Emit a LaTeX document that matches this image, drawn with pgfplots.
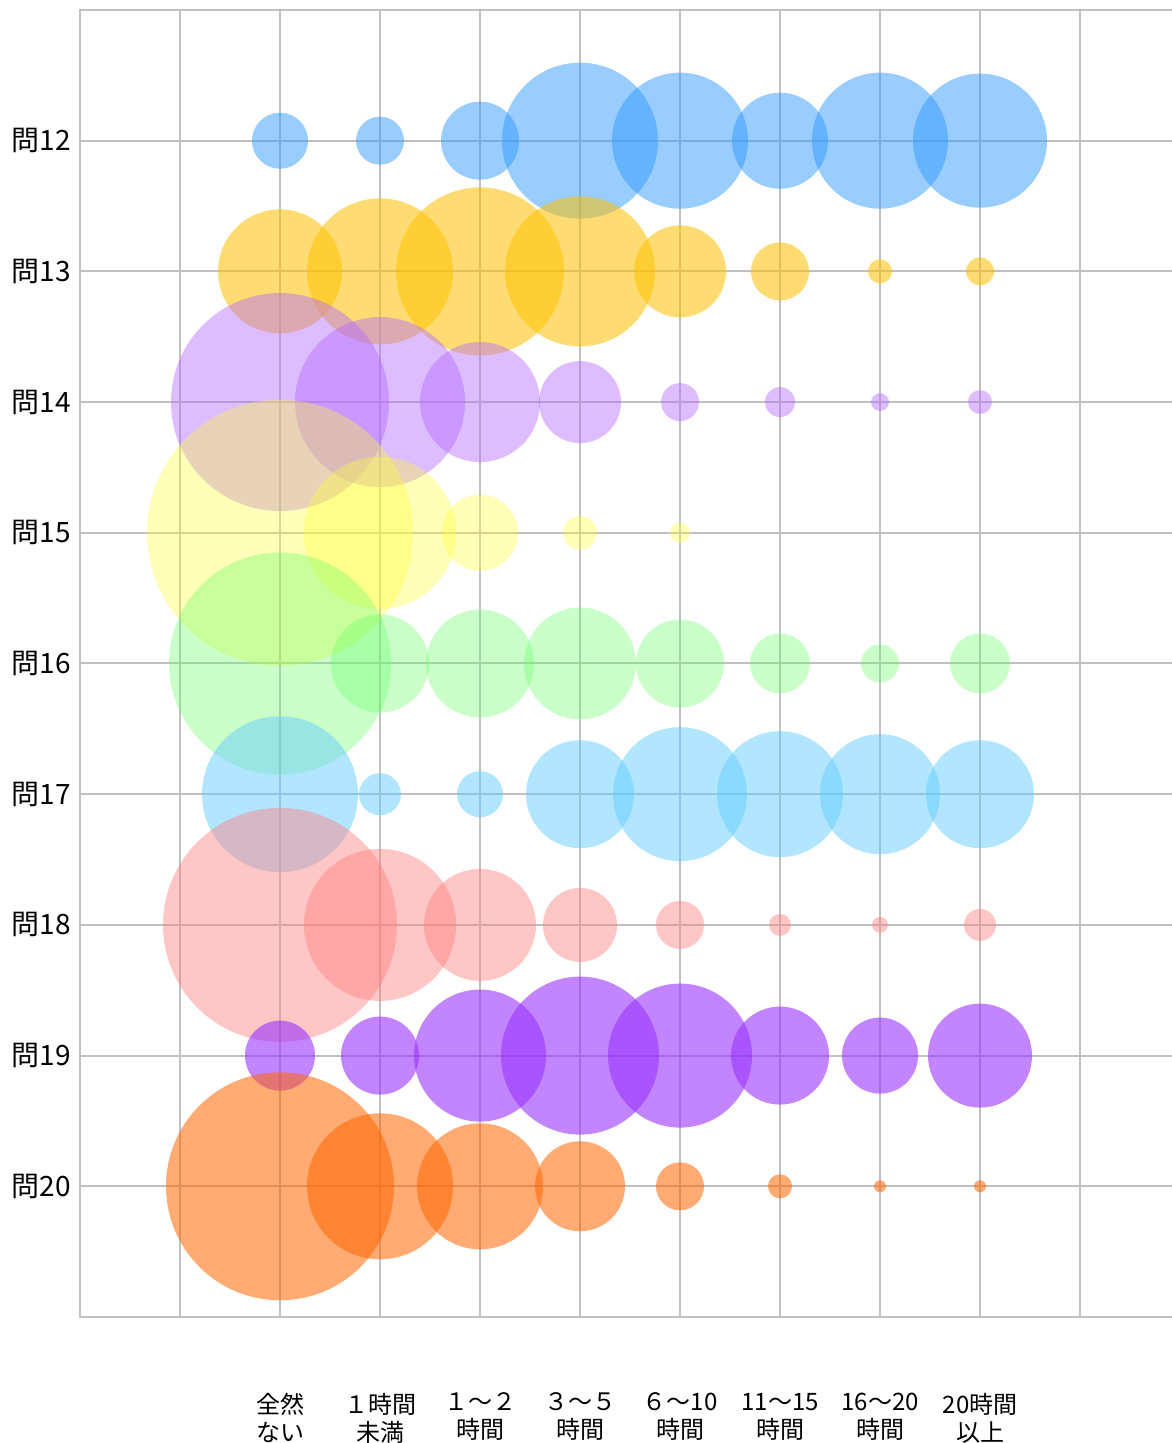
\documentclass[border=0pt]{standalone}
\usepackage{fontspec}
\setmainfont{Noto Sans CJK JP}
\usepackage{pgfplots}
\pgfplotsset{compat=1.18}

\definecolor{c12}{HTML}{3399FF}
\definecolor{c13}{HTML}{FFC000}
\definecolor{c14}{HTML}{B36BFF}
\definecolor{c15}{HTML}{FFFF33}
\definecolor{c16}{HTML}{66FF66}
\definecolor{c17}{HTML}{66CCFF}
\definecolor{c18}{HTML}{FF8080}
\definecolor{c19}{HTML}{9933FF}
\definecolor{c20}{HTML}{FF6600}
\definecolor{gridgray}{HTML}{C0C0C0}

% bubble radius r is given in pixels of the reference, 1px = 0.5pt
\pgfplotsset{
  bub/.style 2 args={
    scatter, only marks, mark=*,
    scatter/use mapped color={draw=#1, draw opacity=0, fill=#1, fill opacity=#2},
    visualization depends on={0.5*\thisrow{r} \as \rad},
    scatter/@pre marker code/.append style={/tikz/mark size=\rad}
  }
}

\begin{document}
\begin{tikzpicture}
\begin{axis}[
    name=ax,
    scale only axis,
    width=547.5pt, height=653.5pt,
    xmin=0, xmax=10.95, ymin=0, ymax=10,
    xtick={1,...,10}, ytick={1,...,9},
    xticklabels={,{全然\\ない},{１時間\\未満},{１～２\\時間},{３～５\\時間},{６～10\\時間},{11～15\\時間},{16～20\\時間},{20時間\\以上},},
    yticklabels={問20,問19,問18,問17,問16,問15,問14,問13,問12},
    grid=major,
    grid style={gridgray, line width=1pt},
    axis line style={gridgray, line width=1pt},
    major tick length=0pt,
    xticklabel style={align=center, font=\fontsize{12}{14}\selectfont, yshift=-34.5pt},
    yticklabel style={font=\fontsize{14}{16}\selectfont, xshift=-1pt},
]
\addplot[bub={c12}{0.5}] table[row sep=\\] {x y r\\ 2 9 28\\ 3 9 24\\ 4 9 39\\ 5 9 78\\ 6 9 68\\ 7 9 48\\ 8 9 68\\ 9 9 67\\};
\addplot[bub={c13}{0.55}] table[row sep=\\] {x y r\\ 2 8 62\\ 3 8 73\\ 4 8 84\\ 5 8 75\\ 6 8 46\\ 7 8 29\\ 8 8 12\\ 9 8 14\\};
\addplot[bub={c14}{0.45}] table[row sep=\\] {x y r\\ 2 7 109\\ 3 7 85\\ 4 7 60\\ 5 7 41\\ 6 7 19\\ 7 7 15\\ 8 7 9\\ 9 7 12\\};
\addplot[bub={c15}{0.35}] table[row sep=\\] {x y r\\ 2 6 133\\ 3 6 76\\ 4 6 38\\ 5 6 17\\ 6 6 10\\};
\addplot[bub={c16}{0.35}] table[row sep=\\] {x y r\\ 2 5 111\\ 3 5 49\\ 4 5 54\\ 5 5 56\\ 6 5 44\\ 7 5 30\\ 8 5 19\\ 9 5 30\\};
\addplot[bub={c17}{0.5}] table[row sep=\\] {x y r\\ 2 4 78\\ 3 4 21\\ 4 4 23\\ 5 4 54\\ 6 4 67\\ 7 4 63\\ 8 4 60\\ 9 4 54\\};
\addplot[bub={c18}{0.45}] table[row sep=\\] {x y r\\ 2 3 117\\ 3 3 76\\ 4 3 56\\ 5 3 37\\ 6 3 24\\ 7 3 11\\ 8 3 8\\ 9 3 16\\};
\addplot[bub={c19}{0.6}] table[row sep=\\] {x y r\\ 2 2 35\\ 3 2 39\\ 4 2 66\\ 5 2 79\\ 6 2 72\\ 7 2 49\\ 8 2 38\\ 9 2 52\\};
\addplot[bub={c20}{0.55}] table[row sep=\\] {x y r\\ 2 1 114\\ 3 1 73\\ 4 1 63\\ 5 1 45\\ 6 1 24\\ 7 1 12\\ 8 1 6\\ 9 1 6\\};
\end{axis}
\pgfresetboundingbox
\path[use as bounding box] ([xshift=-40pt,yshift=-63pt]ax.south west) rectangle ([xshift=545.5pt,yshift=658.5pt]ax.south west);
\end{tikzpicture}
\end{document}
